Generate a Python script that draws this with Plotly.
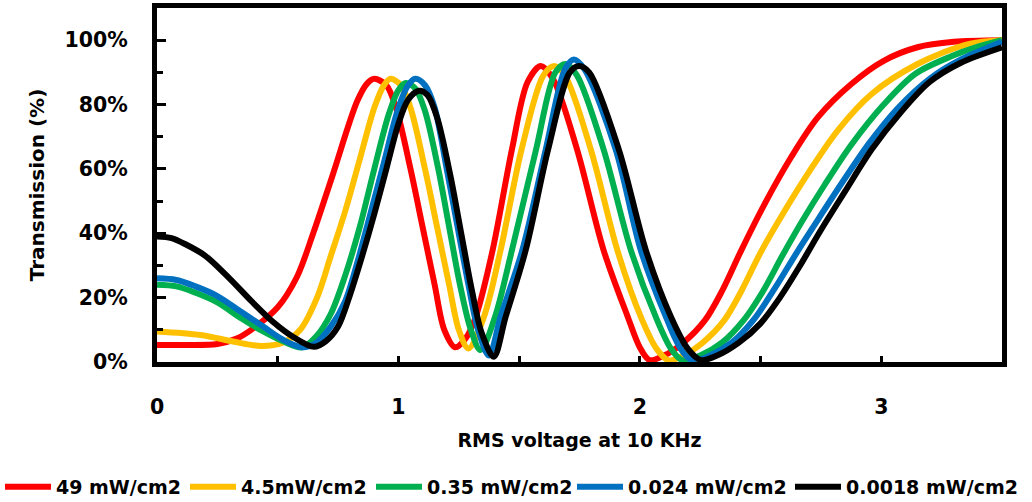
import plotly.graph_objects as go

# ---- data (voltage in V rms, transmission in %) ----
SERIES_NAMES = ["49 mW/cm2", "4.5mW/cm2", "0.35 mW/cm2", "0.024 mW/cm2", "0.0018 mW/cm2"]
SERIES_COLORS = ["#FF0000", "#FFC000", "#00B050", "#0070C0", "#000000"]

RED_X = [0, 0.12, 0.25, 0.33, 0.39, 0.5, 0.58, 0.647, 0.725, 0.829, 0.87, 0.90, 0.95, 0.99, 1.05, 1.10, 1.15,
         1.19, 1.235, 1.28, 1.32, 1.39, 1.47, 1.535, 1.59, 1.64, 1.74, 1.85, 1.95, 2.0, 2.04, 2.10, 2.18, 2.27,
         2.34, 2.42, 2.516, 2.627, 2.737, 2.876, 3.01, 3.15, 3.3, 3.5]
RED_Y = [5.3, 5.3, 5.6, 7.3, 10, 17, 26.5, 40, 57.5, 81, 86.5, 88, 86, 79, 60, 42, 24,
         10, 4.6, 7.5, 14, 34.7, 66, 87, 92, 88, 66, 34.7, 14, 4.5, 0.6, 2, 6, 13,
         22, 34.7, 49, 63.7, 76, 86.4, 93.6, 97.8, 99.5, 100]

ORANGE_X = [0, 0.18, 0.32, 0.43, 0.52, 0.593, 0.663, 0.72, 0.78, 0.84, 0.90, 0.94, 0.967, 1.01, 1.05, 1.11,
            1.16, 1.21, 1.25, 1.29, 1.354, 1.423, 1.51, 1.60, 1.645, 1.69, 1.797, 1.907, 2.004, 2.07, 2.12,
            2.18, 2.26, 2.35, 2.42, 2.50, 2.60, 2.70, 2.82, 2.96, 3.15, 3.36, 3.5]
ORANGE_Y = [9.5, 8.4, 6.3, 5, 6, 10, 20, 33, 47, 63, 79, 86, 88, 86, 79, 60,
            42, 24, 10, 4.2, 14, 34.7, 66, 89, 92, 89, 66, 34.7, 14, 4, 0.5,
            2, 6, 13, 22, 34, 47, 59, 72, 83.3, 92.6, 98.8, 100]

GREEN_X = [0, 0.08, 0.16, 0.25, 0.35, 0.44, 0.52, 0.6, 0.66, 0.72, 0.78, 0.84, 0.90, 0.96, 1.0, 1.03, 1.07,
           1.11, 1.165, 1.21, 1.255, 1.30, 1.34, 1.40, 1.47, 1.57, 1.65, 1.693, 1.74, 1.85, 1.963, 2.066, 2.13,
           2.177, 2.25, 2.34, 2.43, 2.51, 2.59, 2.67, 2.765, 2.876, 3.01, 3.14, 3.29, 3.4, 3.5]
GREEN_Y = [24, 23.5, 21.5, 18.5, 13.5, 9.5, 6.5, 4.5, 8, 15, 27, 42, 60, 77, 84.5, 86.7, 85,
           78, 60, 42, 24, 10, 3.7, 14, 34.7, 66, 90, 92.6, 89, 66, 34.7, 14, 4,
           0.5, 2, 6, 13, 22, 33, 43.5, 55, 67.5, 80, 89.5, 95, 98, 100]

BLUE_X = [0, 0.08, 0.16, 0.25, 0.35, 0.44, 0.52, 0.6, 0.66, 0.72, 0.78, 0.83, 0.88, 0.94, 1.0, 1.04, 1.07,
          1.11, 1.15, 1.20, 1.245, 1.29, 1.33, 1.375, 1.423, 1.513, 1.61, 1.69, 1.727, 1.77, 1.90, 2.004, 2.108,
          2.17, 2.219, 2.29, 2.38, 2.47, 2.56, 2.65, 2.74, 2.84, 2.95, 3.07, 3.2, 3.33, 3.5]
BLUE_Y = [26, 25.5, 23.5, 20.5, 15.5, 11, 7, 4.6, 6, 11, 19, 31, 45, 62, 79, 86, 88,
          86, 79, 60, 42, 24, 10, 2, 14, 34.7, 66, 91, 94, 91, 66, 34.7, 14,
          4, 0.5, 2, 6, 13, 23, 34, 44.5, 56, 68, 79, 88, 94, 99.5]

BLACK_X = [0, 0.06, 0.12, 0.2, 0.3, 0.39, 0.48, 0.56, 0.65, 0.70, 0.75, 0.80, 0.85, 0.90, 0.95, 1.0, 1.04,
           1.085, 1.12, 1.16, 1.215, 1.26, 1.305, 1.345, 1.395, 1.444, 1.527, 1.62, 1.71, 1.748, 1.79, 1.913,
           2.025, 2.129, 2.20, 2.253, 2.32, 2.41, 2.50, 2.58, 2.66, 2.75, 2.85, 2.96, 3.08, 3.2, 3.33, 3.5]
BLACK_Y = [39, 38.5, 36.5, 33, 26, 19, 12.5, 8, 4.7, 6.5, 11, 21, 33, 46, 60, 74, 81.5,
           84.3, 83, 76, 58, 40, 22, 9, 1.6, 14, 34.7, 66, 90, 92, 90, 66,
           34.7, 14, 4, 0.6, 2, 6, 12, 20, 29.5, 41, 53, 66, 77.5, 87, 93, 97.8]

X_TICKS = [0, 1, 2, 3]
Y_TICKS = [0, 20, 40, 60, 80, 100]

SERIES_X = [RED_X, ORANGE_X, GREEN_X, BLUE_X, BLACK_X]
SERIES_Y = [RED_Y, ORANGE_Y, GREEN_Y, BLUE_Y, BLACK_Y]

FONT = "DejaVu Sans"
PLOT_L, PLOT_W = 157, 845
# left edge (px) of each legend entry's colour sample
LEGEND_SAMPLE_LEFT = [7, 192, 378, 579, 797]
LEGEND_IDS = ["legend", "legend2", "legend3", "legend4", "legend5"]

fig = go.Figure()
for name, color, xs, ys, lid in zip(SERIES_NAMES, SERIES_COLORS, SERIES_X, SERIES_Y, LEGEND_IDS):
    fig.add_trace(go.Scatter(
        x=xs, y=ys, name=name, mode="lines", legend=lid,
        line=dict(color=color, width=6, shape="spline", smoothing=0.9),
    ))

legend_layout = {}
for lid, px in zip(LEGEND_IDS, LEGEND_SAMPLE_LEFT):
    legend_layout[lid] = dict(
        orientation="h", x=(px - 7 - PLOT_L) / PLOT_W, xanchor="left",
        y=-0.353, yanchor="middle",
        font=dict(family=FONT, size=19.0, color="black", weight="bold"),
        itemwidth=46, bgcolor="rgba(0,0,0,0)",
    )

fig.update_layout(
    width=1032, height=502,
    margin=dict(l=157, r=30, t=8, b=140, autoexpand=False),
    paper_bgcolor="white", plot_bgcolor="white",
    font=dict(family=FONT, size=20, color="black", weight="bold"),
    showlegend=True,
    **legend_layout,
)

fig.update_xaxes(
    range=[0, 3.5], tickvals=X_TICKS, ticktext=[str(v) for v in X_TICKS],
    ticks="inside", ticklen=6, tickwidth=3, tickcolor="black",
    minor=dict(dtick=0.5, ticks="inside", ticklen=6, tickwidth=3, tickcolor="black"),
    showline=True, linewidth=5, linecolor="black", mirror=True,
    showgrid=False, zeroline=False,
    ticklabelstandoff=22,
    tickfont=dict(family=FONT, size=20.5, color="black", weight="bold"),
    title=dict(text="RMS voltage at 10 KHz", standoff=18,
               font=dict(family=FONT, size=19, color="black", weight="bold")),
)
fig.update_yaxes(
    range=[0, 110], tickvals=Y_TICKS, ticktext=[f"{v}%" for v in Y_TICKS],
    ticks="inside", ticklen=9, tickwidth=3, tickcolor="black",
    minor=dict(dtick=10, ticks="inside", ticklen=6, tickwidth=3, tickcolor="black"),
    showline=True, linewidth=5, linecolor="black", mirror=True,
    showgrid=False, zeroline=False,
    ticklabelstandoff=20,
    tickfont=dict(family=FONT, size=20.5, color="black", weight="bold"),
    title=dict(text="Transmission (%)", standoff=16,
               font=dict(family=FONT, size=20, color="black", weight="bold")),
)

fig.write_html("out.html", config={"displayModeBar": False},
               post_script="document.body.style.margin='0px';")
